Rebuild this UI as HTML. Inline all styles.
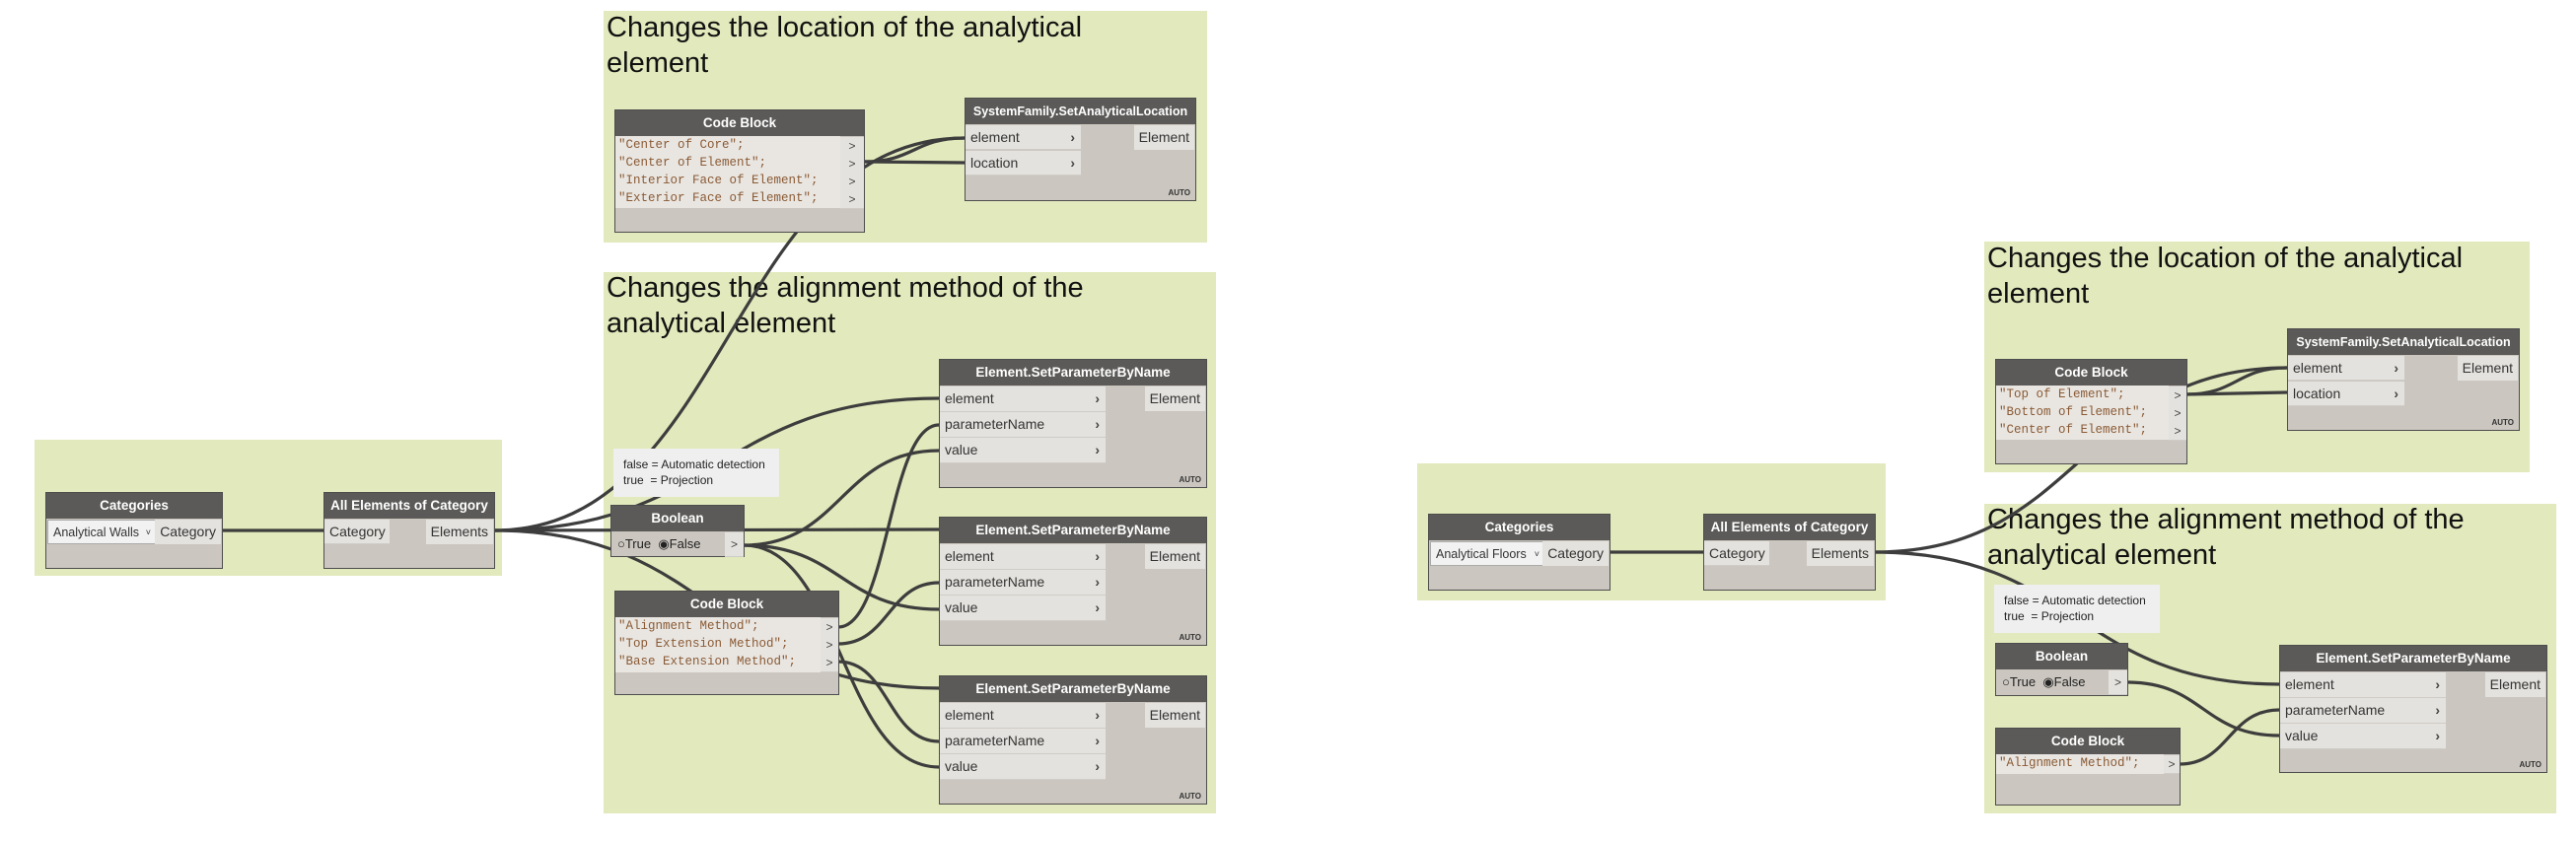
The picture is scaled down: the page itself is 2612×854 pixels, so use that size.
<!DOCTYPE html>
<html><head><meta charset="utf-8"><style>
body{margin:0;width:2612px;height:854px;background:#fff;position:relative;overflow:hidden;font-family:"Liberation Sans",sans-serif}
.g{position:absolute;background:#e2e9bc}
.t{position:absolute;font-size:29px;line-height:36px;color:#111}
.n{position:absolute;background:#cbc6bf;border:1px solid #4e4e4e;box-sizing:border-box;z-index:2}
.h{position:absolute;left:0;right:0;top:0;height:26px;background:#5b5a58;color:#fff;font-size:13.5px;font-weight:bold;text-align:center;line-height:26px;white-space:nowrap;overflow:hidden}
.p{position:absolute;background:#e4e2de;font-size:14px;color:#333;line-height:25px;padding-left:5px;box-sizing:border-box;border-bottom:1px solid #cfccc7;white-space:nowrap}
.p b{position:absolute;right:6px;top:0;font-weight:bold;color:#444}
.o{position:absolute;right:1px;background:#e4e2de;font-size:14px;color:#333;line-height:25px;padding:0 5px}
.a{position:absolute;right:5px;bottom:3px;font-size:8px;font-weight:bold;color:#333}
.c{position:absolute;left:0;background:#e9e6e2;font-family:"Liberation Mono",monospace;font-size:12.5px;color:#8a5a34;white-space:pre;line-height:18px;padding-left:3px;box-sizing:border-box;overflow:hidden}
.cp{position:absolute;background:#e4e2de;font-size:12px;color:#444;text-align:center;line-height:18px;border-bottom:1px solid #cfccc7}
.note{position:absolute;background:#efefef;font-size:12px;color:#222;line-height:16px;padding:8px 10px;box-sizing:border-box;z-index:2;white-space:nowrap}
svg{position:absolute;left:0;top:0;z-index:1}
</style></head><body>

<div class="g" style="left:35px;top:446px;width:474px;height:138px"></div>
<div class="g" style="left:612px;top:11px;width:612px;height:235px"></div>
<div class="g" style="left:612px;top:276px;width:621px;height:549px"></div>
<div class="g" style="left:1437px;top:470px;width:475px;height:139px"></div>
<div class="g" style="left:2012px;top:245px;width:553px;height:234px"></div>
<div class="g" style="left:2012px;top:511px;width:580px;height:314px"></div>

<div class="t" style="left:615px;top:10px">Changes the location of the analytical<br>element</div>
<div class="t" style="left:615px;top:274px">Changes the alignment method of the<br>analytical element</div>
<div class="t" style="left:2015px;top:244px">Changes the location of the analytical<br>element</div>
<div class="t" style="left:2015px;top:509px">Changes the alignment method of the<br>analytical element</div>

<svg width="2612" height="854" fill="none" stroke="#3d3d3d" stroke-width="3.2">
<path d="M225 538 L328 538"/>
<path d="M501 538 C740 538 740 140 978 140"/>
<path d="M501 538 C727 538 727 404 952 404"/>
<path d="M501 538 C727 538 727 537 952 537"/>
<path d="M501 538 C727 538 727 698 952 698"/>
<path d="M876 164 C927 164 927 140 978 140"/>
<path d="M876 164 L978 165"/>
<path d="M754 553 C853 553 853 457 952 457"/>
<path d="M754 553 C853 553 853 618 952 618"/>
<path d="M754 553 C853 553 853 778 952 778"/>
<path d="M850 636 C901 636 901 431 952 431"/>
<path d="M850 653 C901 653 901 591 952 591"/>
<path d="M850 671 C901 671 901 752 952 752"/>
<path d="M1632 560 L1727 560"/>
<path d="M1901 560 C2110 560 2110 373 2319 373"/>
<path d="M1901 560 C2106 560 2106 694 2311 694"/>
<path d="M2217 400 C2268 400 2268 373 2319 373"/>
<path d="M2217 400 L2319 398"/>
<path d="M2157 692 C2234 692 2234 746 2311 746"/>
<path d="M2210 775 C2260 775 2260 720 2311 720"/>
</svg>

<div class="n" style="left:46px;top:499px;width:180px;height:78px"><div class="h">Categories</div>
<div class="p" style="left:1px;top:27px;width:111px;height:25px;background:#f2f2f2;border:1px solid #aaa;font-size:12.5px">Analytical Walls <span style="position:absolute;right:5px;font-size:9px">˅</span></div>
<div class="o" style="top:27px">Category</div></div>
<div class="n" style="left:328px;top:499px;width:174px;height:78px"><div class="h">All Elements of Category</div>
<div class="p" style="left:0;top:27px;width:66px;height:25px">Category</div>
<div class="o" style="top:27px">Elements</div></div>

<div class="n" style="left:623px;top:111px;width:254px;height:125px"><div class="h">Code Block</div>
<div class="c" style="top:26px;width:228px;height:73px">"Center of Core";
"Center of Element";
"Interior Face of Element";
"Exterior Face of Element";</div>
<div class="cp" style="left:228px;top:27px;width:24px">&gt;</div><div class="cp" style="left:228px;top:45px;width:24px">&gt;</div><div class="cp" style="left:228px;top:63px;width:24px">&gt;</div><div class="cp" style="left:228px;top:81px;width:24px">&gt;</div></div>

<div class="n" style="left:978px;top:99px;width:235px;height:105px"><div class="h" style="font-size:12.5px">SystemFamily.SetAnalyticalLocation</div>
<div class="p" style="left:0;top:27px;width:117px;height:25px">element<b>›</b></div>
<div class="p" style="left:0;top:53px;width:117px;height:25px">location<b>›</b></div>
<div class="o" style="top:27px">Element</div><div class="a">AUTO</div></div>

<div class="note" style="left:622px;top:455px;width:168px;height:49px">false = Automatic detection<br>true &nbsp;= Projection</div>

<div class="n" style="left:619px;top:512px;width:136px;height:53px"><div class="h">Boolean</div>
<div style="position:absolute;left:6px;top:31px;font-size:13px;color:#222">○True &nbsp;◉False</div>
<div class="cp" style="left:115px;top:27px;width:19px;height:24px;line-height:24px">&gt;</div></div>

<div class="n" style="left:623px;top:599px;width:228px;height:106px"><div class="h">Code Block</div>
<div class="c" style="top:26px;width:208px;height:56px">"Alignment Method";
"Top Extension Method";
"Base Extension Method";</div>
<div class="cp" style="left:208px;top:27px;width:18px">&gt;</div><div class="cp" style="left:208px;top:45px;width:18px">&gt;</div><div class="cp" style="left:208px;top:63px;width:18px">&gt;</div></div>

<div class="n" style="left:952px;top:364px;width:272px;height:131px"><div class="h">Element.SetParameterByName</div>
<div class="p" style="left:0;top:27px;width:168px;height:26px">element<b>›</b></div>
<div class="p" style="left:0;top:53px;width:168px;height:26px">parameterName<b>›</b></div>
<div class="p" style="left:0;top:79px;width:168px;height:26px">value<b>›</b></div>
<div class="o" style="top:27px">Element</div><div class="a">AUTO</div></div>
<div class="n" style="left:952px;top:524px;width:272px;height:131px"><div class="h">Element.SetParameterByName</div>
<div class="p" style="left:0;top:27px;width:168px;height:26px">element<b>›</b></div>
<div class="p" style="left:0;top:53px;width:168px;height:26px">parameterName<b>›</b></div>
<div class="p" style="left:0;top:79px;width:168px;height:26px">value<b>›</b></div>
<div class="o" style="top:27px">Element</div><div class="a">AUTO</div></div>
<div class="n" style="left:952px;top:685px;width:272px;height:131px"><div class="h">Element.SetParameterByName</div>
<div class="p" style="left:0;top:27px;width:168px;height:26px">element<b>›</b></div>
<div class="p" style="left:0;top:53px;width:168px;height:26px">parameterName<b>›</b></div>
<div class="p" style="left:0;top:79px;width:168px;height:26px">value<b>›</b></div>
<div class="o" style="top:27px">Element</div><div class="a">AUTO</div></div>

<div class="n" style="left:1448px;top:521px;width:185px;height:78px"><div class="h">Categories</div>
<div class="p" style="left:1px;top:27px;width:117px;height:25px;background:#f2f2f2;border:1px solid #aaa;font-size:12.5px">Analytical Floors <span style="position:absolute;right:5px;font-size:9px">˅</span></div>
<div class="o" style="top:27px">Category</div></div>
<div class="n" style="left:1727px;top:521px;width:175px;height:78px"><div class="h">All Elements of Category</div>
<div class="p" style="left:0;top:27px;width:66px;height:25px">Category</div>
<div class="o" style="top:27px">Elements</div></div>

<div class="n" style="left:2023px;top:364px;width:195px;height:107px"><div class="h">Code Block</div>
<div class="c" style="top:26px;width:175px;height:55px">"Top of Element";
"Bottom of Element";
"Center of Element";</div>
<div class="cp" style="left:175px;top:27px;width:18px">&gt;</div><div class="cp" style="left:175px;top:45px;width:18px">&gt;</div><div class="cp" style="left:175px;top:63px;width:18px">&gt;</div></div>

<div class="n" style="left:2319px;top:333px;width:236px;height:104px"><div class="h" style="font-size:12.5px">SystemFamily.SetAnalyticalLocation</div>
<div class="p" style="left:0;top:27px;width:118px;height:25px">element<b>›</b></div>
<div class="p" style="left:0;top:53px;width:118px;height:25px">location<b>›</b></div>
<div class="o" style="top:27px">Element</div><div class="a">AUTO</div></div>

<div class="note" style="left:2022px;top:593px;width:168px;height:49px">false = Automatic detection<br>true &nbsp;= Projection</div>

<div class="n" style="left:2023px;top:652px;width:135px;height:54px"><div class="h">Boolean</div>
<div style="position:absolute;left:6px;top:31px;font-size:13px;color:#222">○True &nbsp;◉False</div>
<div class="cp" style="left:114px;top:27px;width:19px;height:24px;line-height:24px">&gt;</div></div>

<div class="n" style="left:2023px;top:738px;width:188px;height:79px"><div class="h">Code Block</div>
<div class="c" style="top:26px;width:170px;height:20px">"Alignment Method";</div>
<div class="cp" style="left:170px;top:27px;width:16px">&gt;</div></div>

<div class="n" style="left:2311px;top:654px;width:272px;height:130px"><div class="h">Element.SetParameterByName</div>
<div class="p" style="left:0;top:27px;width:168px;height:26px">element<b>›</b></div>
<div class="p" style="left:0;top:53px;width:168px;height:26px">parameterName<b>›</b></div>
<div class="p" style="left:0;top:79px;width:168px;height:26px">value<b>›</b></div>
<div class="o" style="top:27px">Element</div><div class="a">AUTO</div></div>

</body></html>
